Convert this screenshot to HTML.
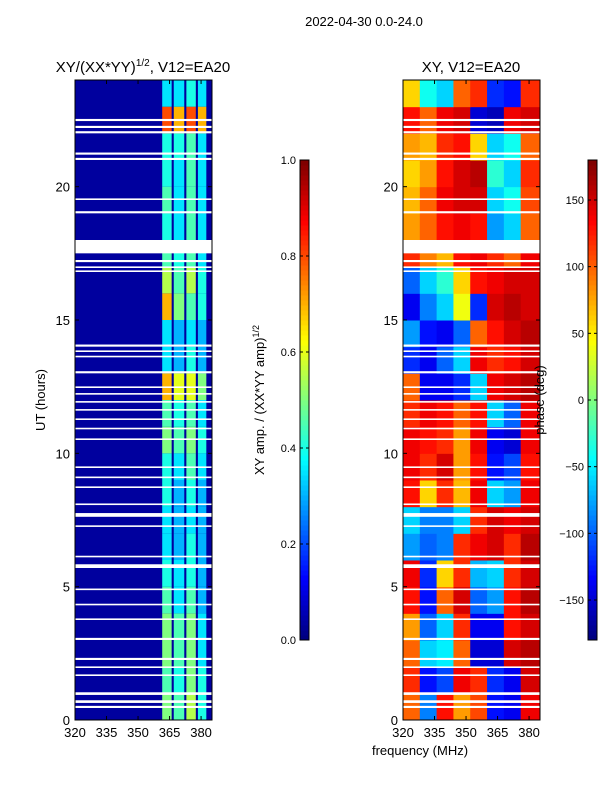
<!DOCTYPE html>
<html><head><meta charset="utf-8"><style>
body{margin:0;background:#fff;}
svg{display:block;font-family:"Liberation Sans",sans-serif;}
</style></head><body>
<svg id="fig" width="600" height="800" viewBox="0 0 600 800" xmlns="http://www.w3.org/2000/svg">
<text x="364" y="26" font-size="13" text-anchor="middle">2022-04-30 0.0-24.0</text>
<text x="143" y="72" font-size="15" text-anchor="middle">XY/(XX*YY)<tspan font-size="10" dy="-6">1/2</tspan><tspan dy="6">, V12=EA20</tspan></text>
<text x="471" y="72" font-size="15" text-anchor="middle">XY, V12=EA20</text>
<g id="left"></g>
<g id="right"></g>
<g id="cb1"></g>
<g id="cb2"></g>
<text transform="translate(45,400) rotate(-90)" font-size="13" text-anchor="middle">UT (hours)</text>
<text transform="translate(264,400) rotate(-90)" font-size="13" text-anchor="middle">XY amp. / (XX*YY amp)<tspan font-size="9" dy="-5">1/2</tspan></text>
<text transform="translate(544,400) rotate(-90)" font-size="13" text-anchor="middle">phase (deg)</text>
<text x="420" y="755" font-size="13" text-anchor="middle">frequency (MHz)</text>
</svg>
<script>
const ampBandEdges=[361.5,366,367,372,373,377.5,378.5,382.5];
const ampBg=0.03;
const ampBands=[[0.5,0.45,0.55,0.4],[0.45,0.4,0.5,0.4],[0.5,0.45,0.5,0.35],[0.5,0.45,0.5,0.35],[0.45,0.35,0.45,0.3],[0.4,0.35,0.4,0.3],[0.35,0.3,0.4,0.3],[0.35,0.3,0.35,0.3],[0.4,0.3,0.4,0.3],[0.4,0.35,0.45,0.35],[0.5,0.45,0.5,0.4],[0.45,0.4,0.45,0.35],[0.7,0.6,0.6,0.5],[0.35,0.3,0.4,0.3],[0.35,0.3,0.35,0.3],[0.7,0.5,0.45,0.4],[0.55,0.45,0.55,0.4],[0.45,0.4,0.45,0.35],[0.4,0.35,0.45,0.35],[0.45,0.35,0.45,0.35],[0.4,0.35,0.45,0.35],[0.4,0.4,0.45,0.35],[0.8,0.7,0.8,0.7],[0.35,0.35,0.4,0.35]];
const phaseFreqEdges=[320,328,336,344,352,360,368,376,385.2];
const phase=[[100,-90,130,80,110,-130,-140,140],[120,-130,-110,140,120,-120,-140,150],[100,-60,-50,100,-150,-150,150,160],[80,-100,-60,120,-140,-140,130,150],[130,-130,100,150,-100,-80,130,160],[140,-120,60,120,-70,-60,120,150],[-80,-100,-90,120,140,150,120,160],[-60,-90,-90,-60,120,150,140,150],[130,60,120,70,140,-60,-80,140],[140,120,150,80,130,-130,-110,130],[140,130,120,80,140,-140,-150,140],[120,140,130,100,130,-60,-100,140],[100,-140,-140,-120,-60,140,150,160],[-120,-140,-100,-60,140,120,130,150],[-80,-130,-140,-100,100,130,150,160],[-140,-90,-60,40,-120,150,160,150],[-100,-60,-30,60,130,140,150,150],[120,90,70,130,140,120,100,140],[80,100,130,140,130,-80,-60,100],[70,100,140,150,150,-60,-40,110],[60,80,130,150,160,-30,-60,120],[80,70,120,130,60,-60,-40,100],[130,100,140,150,-150,-160,140,150],[60,-40,-60,100,120,-120,-130,120]];
const flagStart=[22.46,22.2,22.0,21.2,21.0,19.5,19.0,17.5,17.17,16.95,16.8,14.0,13.8,13.6,13.0,12.45,12.2,11.9,11.6,11.25,10.9,10.5,9.45,9.07,8.7,8.06,7.62,7.24,6.1,5.7,4.87,4.3,3.75,3.0,2.25,1.95,1.65,0.94,0.64,0.45];
const flagDur=[0.08,0.08,0.08,0.08,0.08,0.06,0.08,0.5,0.08,0.06,0.06,0.08,0.06,0.06,0.08,0.06,0.06,0.06,0.06,0.06,0.06,0.06,0.06,0.06,0.06,0.06,0.14,0.06,0.06,0.14,0.06,0.06,0.06,0.08,0.08,0.06,0.06,0.1,0.1,0.08];
const xTicks=[320,335,350,365,380];
const yTicks=[0,5,10,15,20];
const cb1Ticks=[0,0.2,0.4,0.6,0.8,1.0];
const cb2Ticks=[-150,-100,-50,0,50,100,150];

const NS="http://www.w3.org/2000/svg";
function mk(tag,attrs,parent){const e=document.createElementNS(NS,tag);for(const k in attrs)e.setAttribute(k,attrs[k]);parent.appendChild(e);return e;}
function jet(v){v=Math.max(0,Math.min(1,v));
 const r=Math.max(0,Math.min(1,1.5-Math.abs(4*v-3))),g=Math.max(0,Math.min(1,1.5-Math.abs(4*v-2))),b=Math.max(0,Math.min(1,1.5-Math.abs(4*v-1)));
 return `rgb(${Math.round(r*255)},${Math.round(g*255)},${Math.round(b*255)})`;}
const Y0=720,Y1=80,T0=0,T1=24,F0=320,F1=385.2;
function yS(t){return Y0-(t-T0)/(T1-T0)*(Y0-Y1);}
function makeX(left,right){return f=>left+(f-F0)/(F1-F0)*(right-left);}
function axes(g,L,R,xS){
 mk('rect',{x:L,y:Y1,width:R-L,height:Y0-Y1,fill:'none',stroke:'#000','stroke-width':1},g);
 xTicks.forEach(t=>{const x=xS(t);
  const tk=mk('line',{x1:x,x2:x,y1:Y0,y2:Y0-4,stroke:'#000'},g);
  mk('line',{x1:x,x2:x,y1:Y1,y2:Y1+4,stroke:'#000'},g);
  const tx=mk('text',{x:x,y:Y0+17,'font-size':13,'text-anchor':'middle'},g);tx.textContent=t;
  });
 yTicks.forEach(t=>{const y=yS(t);
  mk('line',{x1:L,x2:L+4,y1:y,y2:y,stroke:'#000'},g);mk('line',{x1:R,x2:R-4,y1:y,y2:y,stroke:'#000'},g);
  const tx=mk('text',{x:L-5,y:y+5,'font-size':13,'text-anchor':'end'},g);tx.textContent=t;
  });
}
function flags(g,L,R){flagStart.forEach((s,i)=>{const r=mk('rect',{x:L,y:yS(s+flagDur[i]),width:R-L,height:yS(s)-yS(s+flagDur[i]),fill:'#fff'},g);
 });}
(function(){const g=document.getElementById('left');const L=75,R=212,xS=makeX(L,R);
 mk('rect',{x:L,y:Y1,width:R-L,height:Y0-Y1,fill:jet(ampBg)},g);
 ampBands.forEach((row,h)=>{row.forEach((v,j)=>{const f0=ampBandEdges[2*j],f1=ampBandEdges[2*j+1];
  const r=mk('rect',{x:xS(f0),y:yS(h+1),width:xS(f1)-xS(f0),height:yS(h)-yS(h+1),fill:jet(v)},g);
  });});
 flags(g,L,R);axes(g,L,R,xS);})();
(function(){const g=document.getElementById('right');const L=403,R=540,xS=makeX(L,R);
 phase.forEach((row,h)=>{row.forEach((v,j)=>{const f0=phaseFreqEdges[j],f1=phaseFreqEdges[j+1];
  const r=mk('rect',{x:xS(f0),y:yS(h+1),width:xS(f1)-xS(f0)+0.5,height:yS(h)-yS(h+1)+0.5,fill:jet((v+180)/360)},g);
  });});
 flags(g,L,R);axes(g,L,R,xS);})();
function cbar(id,x,vmin,vmax,ticks,fmt){const g=document.getElementById(id);const T=160,B=640,W=9;
 for(let i=0;i<96;i++){mk('rect',{x:x,y:B-(i+1)*5,width:W,height:5.5,fill:jet(i/95)},g);}
 mk('rect',{x:x,y:T,width:W,height:B-T,fill:'none',stroke:'#000'},g);
 ticks.forEach(t=>{const y=B-(t-vmin)/(vmax-vmin)*(B-T);
  mk('line',{x1:x,x2:x+3,y1:y,y2:y,stroke:'#000'},g);mk('line',{x1:x+W,x2:x+W-3,y1:y,y2:y,stroke:'#000'},g);
  const tx=mk('text',{x:x-4,y:y+4,'font-size':11,'text-anchor':'end'},g);tx.textContent=fmt(t);
  });}
cbar('cb1',300,0,1,cb1Ticks,t=>t.toFixed(1));
cbar('cb2',588,-180,180,cb2Ticks,t=>t<0?'\u2212'+(-t):String(t));
</script>
</body></html>
